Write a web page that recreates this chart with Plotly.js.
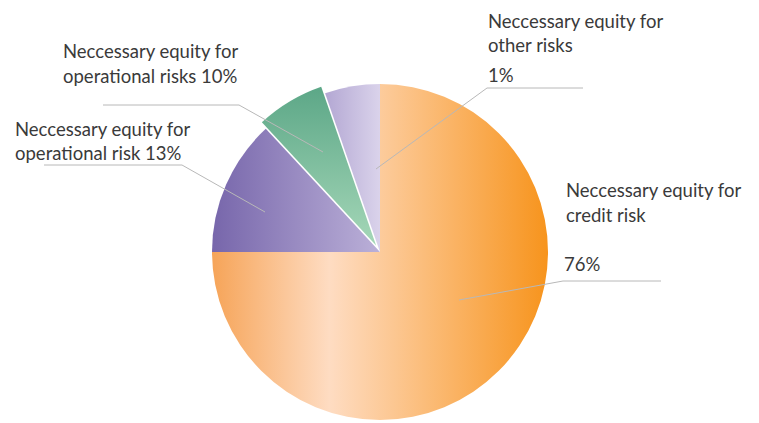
<!DOCTYPE html>
<html><head><meta charset="utf-8">
<script src="https://cdn.plot.ly/plotly-3.0.1.min.js"></script>
<style>html,body{margin:0;padding:0;overflow:hidden;background:#fff}#chart{width:759px;height:430px}</style>
</head><body><div id="chart"></div>
<script>
// ---- data ----
const categories = ['credit risk', 'operational risk', 'operational risks', 'other risks'];
const sliceValues = [75, 13.1, 6.6, 5.3];          // visual share of each slice
const percentLabels = ['76%', '13%', '10%', '1%'];  // printed labels
const labelPrefix = 'Neccessary equity for';

// ---- styles ----
const W = 759, H = 430;
const px = x => x / W, py = y => 1 - y / H;
const gradients = [
  {dir: 'h', stops: [[0, '#f6a458'], [0.35, '#fedcc2'], [1, '#f7941d']]},
  {dir: 'h', stops: [[0, '#7766ab'], [1, '#bbb0d8']]},
  {dir: 'v', stops: [[0, '#5ca787'], [1, '#a5d7b8']]},
  {dir: 'h', stops: [[0, '#b3a7d3'], [1, '#dad3eb']]}
];
const pulls = [0, 0, 0.045, 0];
const textColor = '#3a3a3a', lineColor = '#b8b8b8';
const font = {family: 'Lato, sans-serif', size: 18.5, color: textColor};

// label placement (pixel layout of the annotation blocks)
const labelLayout = [
  {lines: [[labelPrefix, 565, 190], [categories[0], 565, 215], [percentLabels[0], 563, 264]],
   path: [[459, 300], [563, 281], [661, 281]]},
  {lines: [[labelPrefix, 14, 129], ['operational risk ' + percentLabels[1], 14, 153]],
   path: [[265, 212], [182, 165], [44, 165]]},
  {lines: [[labelPrefix, 62, 51], ['operational risks ' + percentLabels[2], 62, 76]],
   path: [[323, 152], [239, 105], [103, 105]]},
  {lines: [[labelPrefix, 487, 21], [categories[3], 487, 45], [percentLabels[3], 487, 75]],
   path: [[376, 169], [487, 88], [583, 88]]}
];

const annotations = [], shapes = [];
labelLayout.forEach(l => {
  l.lines.forEach(([t, x, y]) => annotations.push({
    text: t, x: px(x), y: py(y), xref: 'paper', yref: 'paper',
    xanchor: 'left', yanchor: 'middle', showarrow: false, font: font, borderpad: 0
  }));
  shapes.push({
    type: 'path', xref: 'paper', yref: 'paper',
    path: l.path.map((p, i) => (i ? 'L' : 'M') + px(p[0]) + ',' + py(p[1])).join(' '),
    line: {color: lineColor, width: 1}
  });
});

const cx = 380, cy = 252, r = 168, box = r * (1 + Math.max(...pulls));
const trace = {
  type: 'pie', values: sliceValues, labels: categories.map((c, i) => c + ' ' + percentLabels[i]),
  sort: false, direction: 'clockwise', rotation: 0, textinfo: 'none', hoverinfo: 'label',
  pull: pulls,
  marker: {colors: ['#fbc08a', '#9f92c8', '#7dbd9f', '#c8bfe0'], line: {width: 0}},
  domain: {x: [px(cx - box), px(cx + box)], y: [Math.max(0, py(cy + box)), py(cy - box)]},
  showlegend: false
};

const layout = {
  width: W, height: H, margin: {l: 0, r: 0, t: 0, b: 0},
  paper_bgcolor: '#ffffff', plot_bgcolor: '#ffffff',
  annotations: annotations, shapes: shapes, showlegend: false
};

Plotly.newPlot('chart', [trace], layout, {staticPlot: true}).then(gd => {
  const svg = gd.querySelector('svg.main-svg');
  const ns = 'http://www.w3.org/2000/svg';
  let defs = svg.querySelector('defs');
  if (!defs) { defs = document.createElementNS(ns, 'defs'); svg.insertBefore(defs, svg.firstChild); }
  gradients.forEach((g, i) => {
    const lg = document.createElementNS(ns, 'linearGradient');
    lg.setAttribute('id', 'sliceGrad' + i);
    lg.setAttribute('x1', '0'); lg.setAttribute('y1', '0');
    lg.setAttribute('x2', g.dir === 'h' ? '1' : '0'); lg.setAttribute('y2', g.dir === 'h' ? '0' : '1');
    g.stops.forEach(([o, c]) => {
      const s = document.createElementNS(ns, 'stop');
      s.setAttribute('offset', o); s.setAttribute('stop-color', c);
      lg.appendChild(s);
    });
    defs.appendChild(lg);
  });
  gd.querySelectorAll('g.slice path.surface').forEach((p, i) => {
    p.style.fill = 'url(#sliceGrad' + i + ')';
  });
});
</script>
</body></html>
